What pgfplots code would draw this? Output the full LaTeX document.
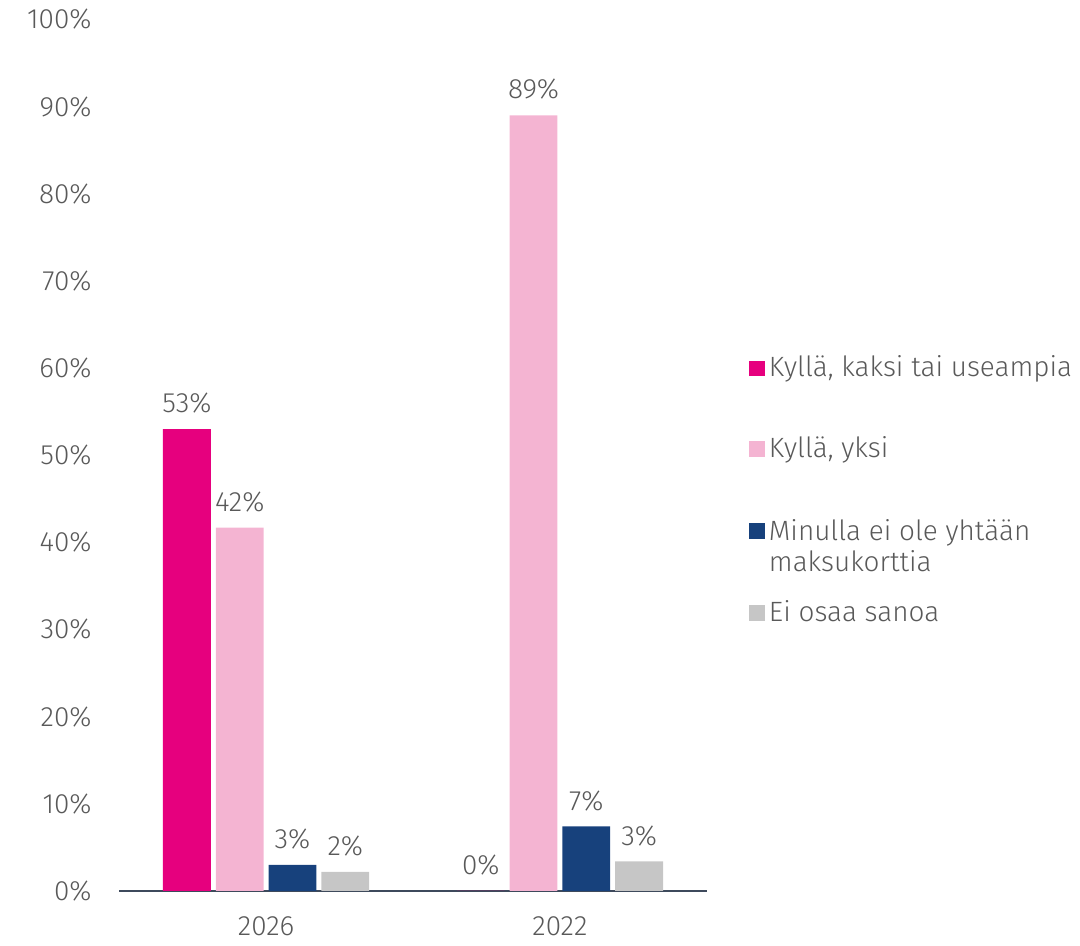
\documentclass[border={9pt 0pt 2pt 0pt}]{standalone}
\usepackage{pgfplots}
\pgfplotsset{compat=1.18}
\usepackage{fontspec}
\IfFontExistsTF{Fira Sans Light}{\setmainfont{Fira Sans Light}}{\setmainfont{Fira Sans}}
\definecolor{cMag}{HTML}{E6007E}
\definecolor{cPink}{HTML}{F4B4D2}
\definecolor{cNavy}{HTML}{17417C}
\definecolor{cGray}{HTML}{C6C6C6}
\definecolor{txtgray}{HTML}{595959}
\definecolor{axisline}{HTML}{3E4A5C}
\newcommand{\chartfont}{\fontsize{14}{16.5}\selectfont}
\begin{document}
\chartfont
\begin{tikzpicture}
\begin{axis}[
  scale only axis,
  width=295pt, height=437.5pt,
  ybar=2.5pt, bar width=24pt,
  xmin=-0.5, xmax=1.5, ymin=0, ymax=100,
  xtick={0,1}, xticklabels={2026,2022},
  ytick={0,10,...,100},
  yticklabel={\pgfmathprintnumber{\tick}\%},
  /pgf/number format/assume math mode=true,
  axis x line*=bottom, axis y line*=left,
  y axis line style={draw=none},
  x axis line style={draw=axisline, line width=0.8pt},
  major tick length=0pt,
  tick label style={text=txtgray, font=\chartfont},
  yticklabel style={xshift=-9pt},
  xticklabel style={yshift=-8pt},
  nodes near coords={\pgfmathprintnumber[fixed,precision=0]{\pgfplotspointmeta}\%},
  every node near coord/.append style={text=txtgray, font=\chartfont, yshift=3pt},
  legend style={at={(1,0.459)}, anchor=west, xshift=21pt, draw=none, fill=none,
    font=\chartfont, text=txtgray, row sep=24pt,
    inner sep=0pt},
  legend cell align=left,
  legend image code/.code={\fill[#1] (0pt,-4pt) rectangle (8pt,4pt);},
]
\addplot[fill=cMag, draw=none] coordinates {(0,53) (1,0)};
\addplot[fill=cPink, draw=none] coordinates {(0,41.7) (1,89)};
\addplot[fill=cNavy, draw=none] coordinates {(0,3) (1,7.4)};
\addplot[fill=cGray, draw=none] coordinates {(0,2.2) (1,3.4)};
\addlegendentry{Kyllä, kaksi tai useampia}
\addlegendentry{Kyllä, yksi}
\addlegendentry{\raisebox{0pt}[\height][0pt]{\begin{tabular}[t]{@{}l@{}}Minulla ei ole yhtään\\[-1pt] maksukorttia\end{tabular}}}
\addlegendentry{Ei osaa sanoa}
\end{axis}
\end{tikzpicture}
\end{document}
